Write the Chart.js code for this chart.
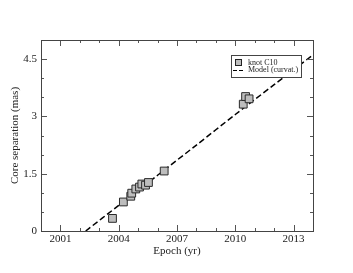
<!DOCTYPE html>
<html>
<head>
<meta charset="utf-8">
<script src="https://cdn.jsdelivr.net/npm/chart.js@4/dist/chart.umd.min.js"></script>
<style>
  html, body { margin: 0; padding: 0; background: #fff; }
  #wrap { width: 353px; height: 273px; }
</style>
</head>
<body>
<div id="wrap"><canvas id="c" width="353" height="273"></canvas></div>
<script>
// ─── DATA ─────────────────────────────────────────────────────────
const knotEpochs = [2003.68, 2004.24, 2004.62, 2004.67, 2004.88, 2005.07, 2005.19, 2005.38, 2005.53, 2006.34, 2010.41, 2010.53, 2010.71];
const knotSep    = [0.33, 0.76, 0.91, 0.99, 1.10, 1.15, 1.23, 1.20, 1.27, 1.57, 3.32, 3.52, 3.46];
const modelEpochs = [2002.3, 2004, 2006, 2008, 2010, 2012, 2014];
const modelSep    = [0, 0.67, 1.46, 2.25, 3.05, 3.83, 4.61];
const xTickLabels = [2001, 2004, 2007, 2010, 2013];
const yTickLabels = [0, 1.5, 3, 4.5];

const serif = '"Liberation Serif", "DejaVu Serif", serif';

// ─── INWARD TICKS + FRAME ─────────────────────────────────────────
const frameTicks = {
    id: 'frameTicks',
    afterDraw(chart) {
        const { ctx, chartArea: a, scales: { x, y } } = chart;
        ctx.save();
        ctx.strokeStyle = '#555';
        ctx.lineWidth = 1;
        ctx.beginPath();
        for (let v = 2000; v <= 2014; v++) {
            const px = Math.round(x.getPixelForValue(v)) + 0.5;
            const len = xTickLabels.includes(v) ? 6 : 3;
            ctx.moveTo(px, a.bottom); ctx.lineTo(px, a.bottom - len);
            ctx.moveTo(px, a.top);    ctx.lineTo(px, a.top + len);
        }
        for (let i = 0; i <= 10; i++) {
            const v = i * 0.5;
            const py = Math.round(y.getPixelForValue(v)) + 0.5;
            const len = (i % 3 === 0) ? 6 : 3;
            ctx.moveTo(a.left, py);  ctx.lineTo(a.left + len, py);
            ctx.moveTo(a.right, py); ctx.lineTo(a.right - len, py);
        }
        ctx.stroke();
        ctx.strokeStyle = '#444';
        ctx.strokeRect(Math.round(a.left) + 0.5, Math.round(a.top) + 0.5,
                       Math.round(a.right - a.left), Math.round(a.bottom - a.top));
        ctx.restore();
    }
};

// ─── LEGEND BOX (inside plot, top right) ──────────────────────────
const boxLegend = {
    id: 'boxLegend',
    afterDraw(chart) {
        const { ctx, chartArea: a } = chart;
        const ds = chart.data.datasets;
        const bx = a.right - 82, by = a.top + 15, bw = 70, bh = 22;
        ctx.save();
        ctx.fillStyle = '#fff';
        ctx.fillRect(bx, by, bw, bh);
        ctx.strokeStyle = '#444';
        ctx.lineWidth = 1;
        ctx.strokeRect(bx + 0.5, by + 0.5, bw, bh);
        ctx.font = '8px ' + serif;
        ctx.textBaseline = 'middle';
        const r1 = by + 7.5, r2 = by + 15;
        // row 1: marker
        ctx.fillStyle = '#bdbdbd';
        ctx.fillRect(bx + 4, r1 - 3.5, 7, 7);
        ctx.strokeStyle = '#222';
        ctx.strokeRect(bx + 4.5, r1 - 3, 6, 6);
        ctx.fillStyle = '#222';
        ctx.fillText(ds[0].label, bx + 17, r1);
        // row 2: dashed line
        ctx.strokeStyle = '#000';
        ctx.lineWidth = 1.2;
        ctx.setLineDash([4, 2]);
        ctx.beginPath();
        ctx.moveTo(bx + 2, r2 + 0.5); ctx.lineTo(bx + 13, r2 + 0.5);
        ctx.stroke();
        ctx.setLineDash([]);
        ctx.fillText(ds[1].label, bx + 17, r2);
        ctx.restore();
    }
};

// ─── CHART ────────────────────────────────────────────────────────
new Chart(document.getElementById('c'), {
    type: 'scatter',
    data: {
        datasets: [
            {
                label: 'knot C10',
                data: knotEpochs.map((e, i) => ({ x: e, y: knotSep[i] })),
                pointStyle: 'rect',
                pointRadius: 5.5,
                backgroundColor: '#bdbdbd',
                borderColor: '#2a2a2a',
                borderWidth: 1,
                order: 0
            },
            {
                label: 'Model (curvat.)',
                data: modelEpochs.map((e, i) => ({ x: e, y: modelSep[i] })),
                showLine: true,
                pointRadius: 0,
                borderColor: '#000',
                borderWidth: 1.5,
                borderDash: [6, 3],
                tension: 0.3,
                order: 1
            }
        ]
    },
    options: {
        responsive: false,
        animation: false,
        layout: { padding: { top: 40, right: 40, left: 9, bottom: 15 } },
        plugins: { legend: { display: false }, tooltip: { enabled: false } },
        scales: {
            x: {
                type: 'linear', min: 2000, max: 2014,
                grid: { display: false, drawTicks: false, tickLength: 0 },
                border: { display: false },
                afterFit: s => { s.height = 27; },
                ticks: {
                    stepSize: 1, autoSkip: false, maxRotation: 0, padding: 2,
                    color: '#222', font: { family: serif, size: 11 },
                    callback: v => xTickLabels.includes(v) ? String(v) : ''
                },
                title: { display: true, text: 'Epoch (yr)', color: '#222',
                         font: { family: serif, size: 11 }, padding: { top: 0, bottom: 0 } }
            },
            y: {
                type: 'linear', min: 0, max: 5,
                grid: { display: false, drawTicks: false, tickLength: 0 },
                border: { display: false },
                afterFit: s => { s.width = 32; },
                ticks: {
                    stepSize: 0.5, autoSkip: false, padding: 4,
                    color: '#222', font: { family: serif, size: 11 },
                    callback: v => yTickLabels.includes(v) ? String(v) : ''
                },
                title: { display: true, text: 'Core separation (mas)', color: '#222',
                         font: { family: serif, size: 11 }, padding: { top: 0, bottom: 0 } }
            }
        }
    },
    plugins: [frameTicks, boxLegend]
});
</script>
</body>
</html>
